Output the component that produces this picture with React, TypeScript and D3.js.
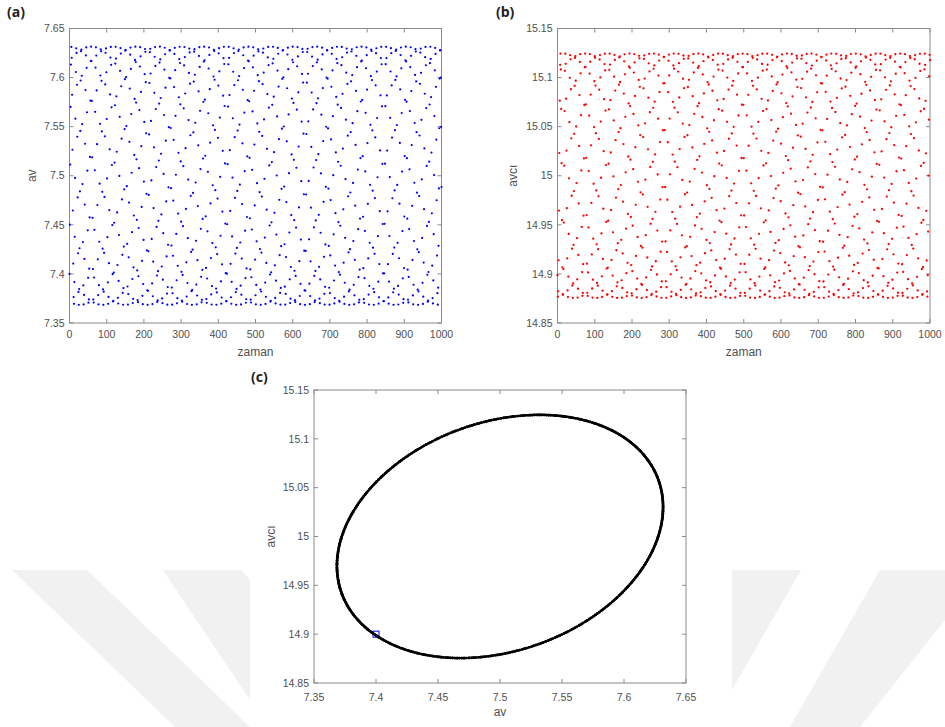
import React from "react";
import * as d3 from "d3";

// Time samples of the discrete predator–prey orbit
const TIME_STEPS = d3.range(0, 1001);
const TIME_TICKS = [0, 100, 200, 300, 400, 500, 600, 700, 800, 900, 1000];
const AV_TICKS = [7.35, 7.4, 7.45, 7.5, 7.55, 7.6, 7.65];
const AVCI_TICKS = [14.85, 14.9, 14.95, 15, 15.05, 15.1, 15.15];

// Invariant closed curve around the equilibrium (av, avcı)
const ORBIT_CENTER = [7.5, 15.0];
const ORBIT_AMPLITUDE = [0.1315, 0.1245];
const ORBIT_PHASE_LAG_DEG = [0, 76];
const ORBIT_START_DEG = [220.5];
const ORBIT_STEP_DEG = [27.2345];
const INITIAL_POINT = [7.4, 14.9];

const rad = Math.PI / 180;
const angleAt = (t: number) => ORBIT_START_DEG[0] + ORBIT_STEP_DEG[0] * t;
const avSeries = TIME_STEPS.map(
  (t) => ORBIT_CENTER[0] + ORBIT_AMPLITUDE[0] * Math.cos((angleAt(t) - ORBIT_PHASE_LAG_DEG[0]) * rad)
);
const avciSeries = TIME_STEPS.map(
  (t) => ORBIT_CENTER[1] + ORBIT_AMPLITUDE[1] * Math.cos((angleAt(t) - ORBIT_PHASE_LAG_DEG[1]) * rad)
);

const fmt = (v: number) => String(+v.toFixed(2));

const AXIS_COLOR = "#8a8a8a";
const TEXT_COLOR = "#505050";
const FONT = "'Liberation Sans', Arial, sans-serif";
const TICK_LEN = 4;

type Box = { left: number; right: number; top: number; bottom: number };

function Frame({
  box,
  x,
  y,
  xTicks,
  yTicks,
  xLabel,
  yLabel,
  yLabelX,
  xTickDy,
  xLabelY,
}: {
  box: Box;
  x: d3.ScaleLinear<number, number>;
  y: d3.ScaleLinear<number, number>;
  xTicks: number[];
  yTicks: number[];
  xLabel: string;
  yLabel: string;
  yLabelX: number;
  xTickDy: number;
  xLabelY: number;
}) {
  const cx = (box.left + box.right) / 2;
  const cy = (box.top + box.bottom) / 2;
  return (
    <g>
      <rect
        x={box.left}
        y={box.top}
        width={box.right - box.left}
        height={box.bottom - box.top}
        fill="none"
        stroke={AXIS_COLOR}
        strokeWidth={1}
      />
      {xTicks.map((v) => (
        <g key={"x" + v}>
          <line x1={x(v)} x2={x(v)} y1={box.bottom} y2={box.bottom - TICK_LEN} stroke={AXIS_COLOR} />
          <line x1={x(v)} x2={x(v)} y1={box.top} y2={box.top + TICK_LEN} stroke={AXIS_COLOR} />
          <text
            x={x(v)}
            y={box.bottom + xTickDy}
            textAnchor="middle"
            fontSize={10.5}
            fill={TEXT_COLOR}
            fontFamily={FONT}
          >
            {fmt(v)}
          </text>
        </g>
      ))}
      {yTicks.map((v) => (
        <g key={"y" + v}>
          <line x1={box.left} x2={box.left + TICK_LEN} y1={y(v)} y2={y(v)} stroke={AXIS_COLOR} />
          <line x1={box.right} x2={box.right - TICK_LEN} y1={y(v)} y2={y(v)} stroke={AXIS_COLOR} />
          <text
            x={box.left - 5}
            y={y(v)}
            dy="0.35em"
            textAnchor="end"
            fontSize={10.5}
            fill={TEXT_COLOR}
            fontFamily={FONT}
          >
            {fmt(v)}
          </text>
        </g>
      ))}
      <text x={cx} y={xLabelY} textAnchor="middle" fontSize={12} fill={TEXT_COLOR} fontFamily={FONT}>
        {xLabel}
      </text>
      <text
        transform={`translate(${yLabelX},${cy}) rotate(-90)`}
        textAnchor="middle"
        dy="0.35em"
        fontSize={12}
        fill={TEXT_COLOR}
        fontFamily={FONT}
      >
        {yLabel}
      </text>
    </g>
  );
}

export default function App() {
  const boxA: Box = { left: 69.5, right: 441.5, top: 28.5, bottom: 323 };
  const boxB: Box = { left: 557.5, right: 930, top: 28.5, bottom: 323 };
  const boxC: Box = { left: 314, right: 686, top: 390, bottom: 683 };

  const xA = d3.scaleLinear().domain([0, 1000]).range([boxA.left, boxA.right]);
  const yA = d3.scaleLinear().domain([7.35, 7.65]).range([boxA.bottom, boxA.top]);
  const xB = d3.scaleLinear().domain([0, 1000]).range([boxB.left, boxB.right]);
  const yB = d3.scaleLinear().domain([14.85, 15.15]).range([boxB.bottom, boxB.top]);
  const xC = d3.scaleLinear().domain([7.35, 7.65]).range([boxC.left, boxC.right]);
  const yC = d3.scaleLinear().domain([14.85, 15.15]).range([boxC.bottom, boxC.top]);

  const labelStyle = { fontFamily: "'Open Sans', 'Liberation Sans', sans-serif", fontWeight: 700 };

  return (
    <svg
      width={945}
      height={727}
      style={{ position: "absolute", left: 0, top: 0, background: "#fff" }}
    >
      <rect width={945} height={727} fill="#fff" />

      {/* faint background emblem */}
      <g fill="#f1f1f1">
        <polygon points="12,570 87,570 250,727 175,727" />
        <polygon points="163,570 241,570 250,580 250,700" />
        <polygon points="729,570 801,570 732,690 732,640" />
        <polygon points="880,570 945,570 945,620 860,727 790,727" />
      </g>
      <rect x={250} y={362} width={482} height={365} fill="#fff" />

      <text x={7} y={17} fontSize={14} fill="#222" style={labelStyle}>
        (a)
      </text>
      <text x={496} y={17} fontSize={14} fill="#222" style={labelStyle}>
        (b)
      </text>
      <text x={251} y={382} fontSize={14} fill="#222" style={labelStyle}>
        (c)
      </text>

      <Frame
        box={boxA}
        x={xA}
        y={yA}
        xTicks={TIME_TICKS}
        yTicks={AV_TICKS}
        xLabel="zaman"
        yLabel="av"
        yLabelX={32}
        xTickDy={15}
        xLabelY={356}
      />
      <g fill="#0000ff">
        {TIME_STEPS.map((t, i) => (
          <circle key={i} cx={xA(t)} cy={yA(avSeries[i])} r={1.1} />
        ))}
      </g>

      <Frame
        box={boxB}
        x={xB}
        y={yB}
        xTicks={TIME_TICKS}
        yTicks={AVCI_TICKS}
        xLabel="zaman"
        yLabel="avcı"
        yLabelX={513}
        xTickDy={15}
        xLabelY={356}
      />
      <g fill="#ff0000">
        {TIME_STEPS.map((t, i) => (
          <circle key={i} cx={xB(t)} cy={yB(avciSeries[i])} r={1.15} />
        ))}
      </g>

      <Frame
        box={boxC}
        x={xC}
        y={yC}
        xTicks={AV_TICKS}
        yTicks={AVCI_TICKS}
        xLabel="av"
        yLabel="avcı"
        yLabelX={271}
        xTickDy={18}
        xLabelY={716}
      />
      <rect
        x={xC(INITIAL_POINT[0]) - 3}
        y={yC(INITIAL_POINT[1]) - 3}
        width={6}
        height={6}
        fill="none"
        stroke="#0000ff"
        strokeWidth={1}
      />
      <g fill="#000">
        {TIME_STEPS.map((t, i) => (
          <circle key={i} cx={xC(avSeries[i])} cy={yC(avciSeries[i])} r={1.35} />
        ))}
      </g>
    </svg>
  );
}
